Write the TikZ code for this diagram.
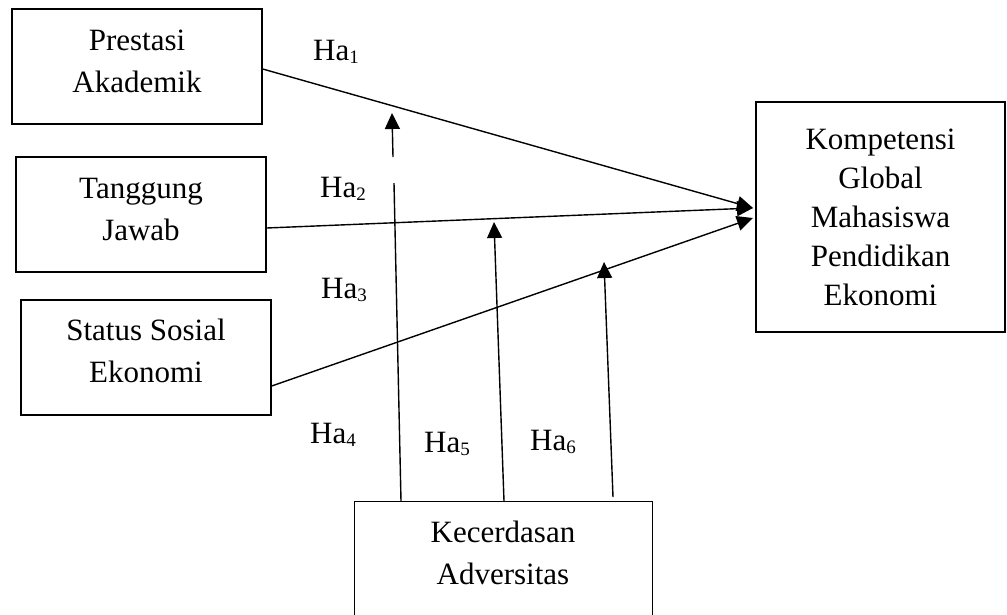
\documentclass[tikz,border=0pt]{standalone}
\usepackage{fontspec}
\setmainfont{Liberation Serif}
\usetikzlibrary{arrows.meta,calc}
\newcommand\hsub[1]{\raisebox{-3pt}{\fontsize{19}{19}\selectfont #1}}
\begin{document}
\begin{tikzpicture}[x=1pt,y=-1pt,
  box/.style={draw, line width=1.4pt, inner sep=0pt, align=center, font=\fontsize{31}{41}\selectfont},
  txt/.style={inner sep=0pt, align=center, font=\fontsize{31}{41}\selectfont},
  lbl/.style={inner sep=0pt, anchor=base west, font=\fontsize{31}{41}\selectfont},
  conn/.style={line width=1.4pt, -{Triangle[length=16pt,width=15pt]}},
  seg/.style={line width=1.4pt}]
\useasboundingbox (0,0) rectangle (1007,614);
\clip (0,0) rectangle (1007,614);
% boxes
\node[box, minimum width=250pt, minimum height=115pt] (pa) at (137,66.5) {};
\node[txt] (pat) at (137,61) {Prestasi\\[1pt]Akademik};
\node[box, minimum width=250pt, minimum height=115pt] (tj) at (141,214.5) {};
\node[txt] (tjt) at (141,209) {Tanggung\\[1pt]Jawab};
\node[box, minimum width=250pt, minimum height=115pt] (ss) at (146,357.5) {};
\node[txt] (sst) at (146,351) {Status Sosial\\[1pt]Ekonomi};
\node[box, minimum width=249pt, minimum height=230pt, font=\fontsize{31}{39}\selectfont] (kg) at (880.5,217) {Kompetensi\\Global\\Mahasiswa\\Pendidikan\\Ekonomi};
\node[box, minimum width=298pt, minimum height=150pt, anchor=north west] (ka) at (354,501) {};
\node[txt] (kat) at (503,553) {Kecerdasan\\[1pt]Adversitas};
% coordinates
\coordinate (t1) at (753,208);
\coordinate (t3) at (753,218);
\coordinate (g1) at (394,183);
\coordinate (g2) at (393,157);
\coordinate (t4) at (392,113);
\coordinate (t5) at (494,222);
\coordinate (t6) at (604,262);
% main arrows
\draw[conn] ($(pa.east)+(0,2.5)$) -- (t1);
\draw[conn] ($(tj.east)+(0,13.5)$) -- (t1);
\draw[conn] ($(ss.east)+(0,28.5)$) -- (t3);
% moderating arrows
\draw[seg] ($(ka.north west)+(47,0)$) -- (g1);
\draw[conn] (g2) -- (t4);
\draw[conn] ($(ka.north west)+(150,0)$) -- (t5);
\draw[conn] ($(ka.north west)+(259,-4)$) -- (t6);
% labels
\node[lbl] (h1) at (313,60) {Ha\hsub{1}};
\node[lbl] (h2) at (320,197) {Ha\hsub{2}};
\node[lbl] (h3) at (321,298) {Ha\hsub{3}};
\node[lbl] (h4) at (310,443) {Ha\hsub{4}};
\node[lbl] (h5) at (424,452) {Ha\hsub{5}};
\node[lbl] (h6) at (530,450) {Ha\hsub{6}};
\end{tikzpicture}
\end{document}
